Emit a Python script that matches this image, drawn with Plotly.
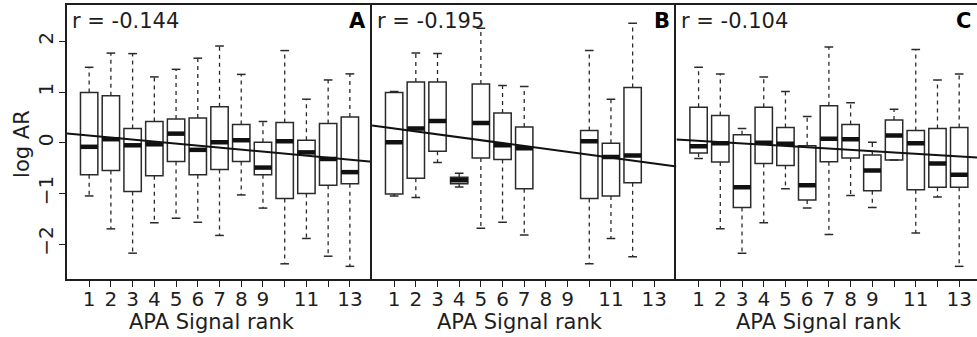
import plotly.graph_objects as go

# ---- data ----
ranks = list(range(1, 14))
tick_labels = ["1", "2", "3", "4", "5", "6", "7", "8", "9", "", "11", "", "13"]

# Panel A
a_upper = [1.49, 1.77, 1.76, 1.30, 1.45, 1.67, 1.91, 1.35, 0.42, 1.82, 0.86, 1.24, 1.36]
a_q3    = [0.99, 0.93, 0.28, 0.42, 0.47, 0.49, 0.71, 0.36, 0.01, 0.40, 0.05, 0.38, 0.51]
a_med   = [-0.08, 0.07, -0.05, -0.03, 0.18, -0.14, 0.01, 0.05, -0.49, 0.03, -0.19, -0.32, -0.58]
a_q1    = [-0.63, -0.55, -0.96, -0.65, -0.37, -0.63, -0.53, -0.37, -0.63, -1.10, -1.00, -0.84, -0.81]
a_lower = [-1.05, -1.70, -2.18, -1.58, -1.49, -1.57, -1.83, -1.03, -1.29, -2.39, -1.89, -2.24, -2.44]

# Panel B (ranks 8, 9, 13 absent)
b_upper = [1.01, 1.77, 1.76, -0.60, 2.26, 1.13, 1.11, None, None, 1.82, 0.86, 2.36, None]
b_q3    = [0.99, 1.20, 1.20, -0.68, 1.16, 0.59, 0.31, None, None, 0.24, -0.01, 1.09, None]
b_med   = [0.01, 0.28, 0.43, -0.74, 0.39, -0.05, -0.11, None, None, 0.03, -0.28, -0.25, None]
b_q1    = [-1.01, -0.70, -0.17, -0.81, -0.30, -0.33, -0.91, None, None, -1.10, -1.05, -0.79, None]
b_lower = [-1.05, -1.08, -0.39, -0.875, -1.69, -1.57, -1.82, None, None, -2.39, -1.89, -2.25, None]

# Panel C
c_upper = [1.49, 1.36, 0.28, 1.30, 1.01, 0.52, 1.89, 0.79, 0.01, 0.66, 1.84, 1.24, 1.36]
c_q3    = [0.70, 0.54, 0.16, 0.70, 0.30, -0.06, 0.73, 0.36, -0.24, 0.45, 0.24, 0.28, 0.30]
c_med   = [-0.07, -0.01, -0.88, 0.00, -0.02, -0.84, 0.08, 0.07, -0.55, 0.145, -0.01, -0.41, -0.63]
c_q1    = [-0.20, -0.38, -1.28, -0.41, -0.45, -1.13, -0.375, -0.30, -0.95, -0.34, -0.93, -0.88, -0.88]
c_lower = [-0.31, -1.70, -2.18, -1.58, -0.91, -1.29, -1.81, -1.04, -1.28, -0.34, -1.78, -1.07, -2.44]

r_values = ["-0.144", "-0.195", "-0.104"]
panel_letters = ["A", "B", "C"]
fit_intercepts = [0.181, 0.339, 0.0655]
fit_slopes = [-0.0395, -0.0577, -0.0258]
x_title = "APA Signal rank"
y_title = "log AR"

# ---- styling ----
FONT = "DejaVu Sans"
FS = 20
INK = "#1e1e1e"
BOX_W = 0.8
CAP_W = 0.4

x_ranges = [[-0.02, 14.02], [-0.02, 14.02], [-0.02, 13.82]]
domains = [[0.0, 0.3352], [0.3352, 0.6697], [0.6697, 1.0]]
title_pos = [0.474, 0.485, 0.475]
y_range = [-2.69, 2.72]

panels = [
    (a_upper, a_q3, a_med, a_q1, a_lower),
    (b_upper, b_q3, b_med, b_q1, b_lower),
    (c_upper, c_q3, c_med, c_q1, c_lower),
]

fig = go.Figure()

for i, (up, q3, med, q1, lo) in enumerate(panels):
    xa = "x" if i == 0 else f"x{i+1}"
    ya = "y" if i == 0 else f"y{i+1}"
    idx = [k for k in range(len(ranks)) if med[k] is not None]
    xs = [ranks[k] for k in idx]

    fig.add_trace(go.Box(
        x=xs,
        q1=[q1[k] for k in idx], median=[med[k] for k in idx], q3=[q3[k] for k in idx],
        lowerfence=[q1[k] for k in idx], upperfence=[q3[k] for k in idx],
        width=BOX_W, boxpoints=False,
        line=dict(color="#2a2a2a", width=1.5),
        fillcolor="rgba(255,255,255,0)",
        xaxis=xa, yaxis=ya, showlegend=False, hoverinfo="skip",
    ))

    wx, wy, cx, cy, mx, my = [], [], [], [], [], []
    for k in idx:
        r = ranks[k]
        wx += [r, r, None, r, r, None]
        wy += [q3[k], up[k], None, q1[k], lo[k], None]
        cx += [r - CAP_W / 2, r + CAP_W / 2, None, r - CAP_W / 2, r + CAP_W / 2, None]
        cy += [up[k], up[k], None, lo[k], lo[k], None]
        mx += [r - BOX_W / 2, r + BOX_W / 2, None]
        my += [med[k], med[k], None]

    fig.add_trace(go.Scatter(x=wx, y=wy, mode="lines",
                             line=dict(color="#2a2a2a", width=1.3, dash="4px,4px"),
                             xaxis=xa, yaxis=ya, showlegend=False, hoverinfo="skip"))
    fig.add_trace(go.Scatter(x=cx, y=cy, mode="lines",
                             line=dict(color="#2a2a2a", width=1.5),
                             xaxis=xa, yaxis=ya, showlegend=False, hoverinfo="skip"))
    fig.add_trace(go.Scatter(x=mx, y=my, mode="lines",
                             line=dict(color="#111111", width=4.5),
                             xaxis=xa, yaxis=ya, showlegend=False, hoverinfo="skip"))

    lx = x_ranges[i]
    ly = [fit_intercepts[i] + fit_slopes[i] * v for v in lx]
    fig.add_trace(go.Scatter(x=lx, y=ly, mode="lines",
                             line=dict(color="#111111", width=2),
                             xaxis=xa, yaxis=ya, showlegend=False, hoverinfo="skip"))

    xkey = "xaxis" if i == 0 else f"xaxis{i+1}"
    ykey = "yaxis" if i == 0 else f"yaxis{i+1}"
    fig.update_layout(**{
        xkey: dict(
            domain=domains[i], range=x_ranges[i], anchor=ya,
            tickmode="array", tickvals=ranks, ticktext=tick_labels,
            ticks="outside", ticklen=6, tickwidth=1.2, tickcolor=INK,
            ticklabelstandoff=-5,
            showline=True, mirror=True, linecolor=INK, linewidth=1.5,
            showgrid=False, zeroline=False,
            tickfont=dict(family=FONT, size=FS, color=INK),
        ),
        ykey: dict(
            domain=[0, 1], range=y_range, anchor=xa,
            showline=True, linecolor=INK, linewidth=1.5,
            showgrid=False, zeroline=False,
            **(dict(tickmode="array", tickvals=[-2, -1, 0, 1, 2],
                    ticktext=["\u22122", "\u22121", "0", "1", "2"],
                    ticks="outside", ticklen=6, tickwidth=1.2, tickcolor=INK,
                    tickangle=-90, ticklabelstandoff=-2,
                    tickfont=dict(family=FONT, size=FS, color=INK))
               if i == 0 else dict(showticklabels=False, ticks="")),
        ),
    })

    fig.add_annotation(text=f"r = {r_values[i]}", xref=f"{xa} domain", yref=f"{ya} domain",
                       x=0, y=1, xanchor="left", yanchor="top", xshift=3, yshift=-2,
                       showarrow=False, font=dict(family=FONT, size=FS + 1, color=INK))
    fig.add_annotation(text=f"<b>{panel_letters[i]}</b>", xref=f"{xa} domain", yref=f"{ya} domain",
                       x=1, y=1, xanchor="right", yanchor="top", xshift=-4, yshift=-2,
                       showarrow=False, font=dict(family=FONT, size=FS + 1, color="#000"))
    fig.add_annotation(text=x_title, xref=f"{xa} domain", yref=f"{ya} domain",
                       x=title_pos[i], y=0, xanchor="center", yanchor="middle", yshift=-43,
                       showarrow=False, font=dict(family=FONT, size=FS + 1, color=INK))

fig.add_annotation(text=y_title, textangle=-90, xref="paper", yref="y domain",
                   x=0, y=0.493, xanchor="center", yanchor="middle", xshift=-45,
                   showarrow=False, font=dict(family=FONT, size=FS + 1, color=INK))

fig.update_layout(
    width=977, height=337,
    margin=dict(l=67, r=0, t=5, b=58),
    paper_bgcolor="white", plot_bgcolor="white",
    showlegend=False,
)

fig.write_html("out.html")
